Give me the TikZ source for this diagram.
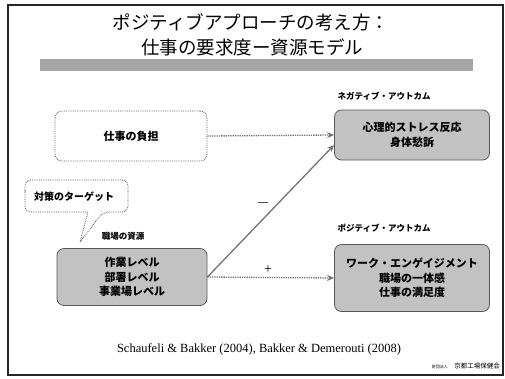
\documentclass[tikz,border=0pt]{standalone}
\usepackage{fontspec}
\setmainfont{Liberation Serif}
\newfontfamily\jp{Noto Sans CJK JP}
\usetikzlibrary{arrows.meta}
\begin{document}
\begin{tikzpicture}[x=1pt,y=-1pt,
  box/.style={draw=black!65, line width=0.8pt, rounded corners=7pt, align=center,
    inner sep=0pt, font=\jp\bfseries\fontsize{11}{14.5}\selectfont},
  gbox/.style={box, fill=black!24},
  wbox/.style={box, densely dotted, fill=white},
  lbl/.style={font=\jp\bfseries\fontsize{8.5}{10}\selectfont, inner sep=0pt},
  conn/.style={draw=black!55, line width=1.3pt, -{Stealth[length=7pt,width=6pt]}},
  dconn/.style={conn, densely dotted}]
\useasboundingbox (0,0) rectangle (505,378);
\fill[white] (0,0) rectangle (505,378);
\draw[line width=2.5pt, black!85] (8,5) rectangle (503,375);
% title
\node[font=\jp\fontsize{18.5}{20}\selectfont, inner sep=0pt] (t1) at (251,22) {ポジティブアプローチの考え方：};
\node[font=\jp\fontsize{18.5}{20}\selectfont, inner sep=0pt] (t2) at (252,47) {仕事の要求度ー資源モデル};
\fill[black!35] (40,59) rectangle (473,71);
% boxes
\node[wbox, minimum width=152pt, minimum height=50pt] (b1) at (131,136) {仕事の負担};
\node[gbox, minimum width=155pt, minimum height=50pt] (b2) at (412,135) {心理的ストレス反応\\身体愁訴};
\node[gbox, minimum width=150pt, minimum height=57pt] (b3) at (132,277) {作業レベル\\部署レベル\\事業場レベル};
\node[gbox, minimum width=155pt, minimum height=67pt] (b4) at (412,278) {ワーク・エンゲイジメント\\職場の一体感\\仕事の満足度};
% labels
\node[lbl] (neg) at (384,96) {ネガティブ・アウトカム};
\node[lbl] (pos) at (384,228) {ポジティブ・アウトカム};
\node[lbl] (res) at (123,236) {職場の資源};
% callout
\draw[black!65, line width=0.8pt, densely dotted, fill=white, rounded corners=6pt]
  (25,196) |- (128,180) |- (103,212) [sharp corners] -- (80,242) -- (88,212) [rounded corners=6pt] -| (25,196) -- cycle;
\node[font=\jp\bfseries\fontsize{10}{12}\selectfont, inner sep=0pt] (call) at (74,197) {対策のターゲット};
% connectors
\draw[dconn] (b1.east) -- (b2.west);
\draw[conn] (b3.east) -- ([yshift=-10pt]b2.west);
\draw[dconn] (b3.east) -- (b4.west);
\node[font=\bfseries\fontsize{10}{12}\selectfont, inner sep=0pt] (minus) at (263,204) {—};
\node[font=\fontsize{14}{14}\selectfont, inner sep=0pt] (plus) at (268,270) {+};
% citation
\node[font=\fontsize{12.5}{14}\selectfont, inner sep=0pt] (cite) at (259,349) {Schaufeli \& Bakker (2004), Bakker \& Demerouti (2008)};
\node[font=\jp\fontsize{6.5}{7}\selectfont, inner sep=0pt, anchor=east] (logo) at (500,366) {{\fontsize{4}{5}\selectfont 財団法人}　京都工場保健会};
\end{tikzpicture}
\end{document}
